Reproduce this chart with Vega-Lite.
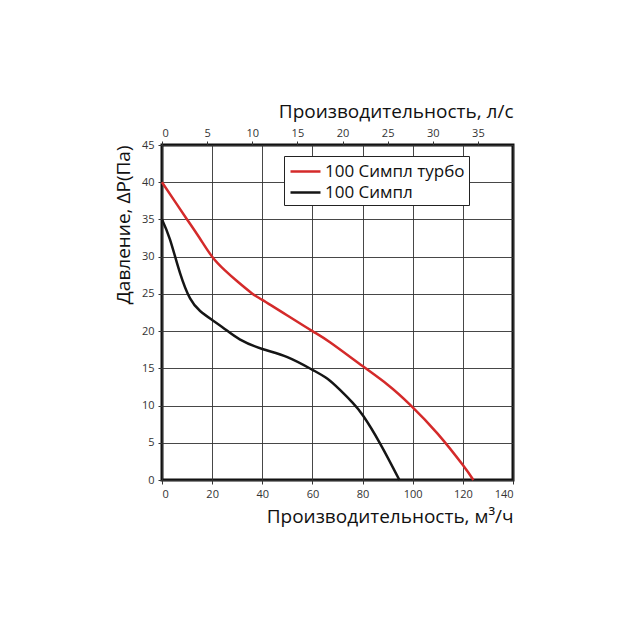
{
  "$schema": "https://vega.github.io/schema/vega-lite/v6.json",
  "autosize": {"type": "none"},
  "padding": {"left": 162, "top": 145, "right": 127, "bottom": 160},
  "width": 351,
  "height": 335,
  "background": "white",
  "config": {
    "font": "Open Sans",
    "view": {"stroke": "#111", "strokeWidth": 3},
    "axis": {
      "labelFont": "Open Sans", "titleFont": "Open Sans",
      "labelFontSize": 11, "labelColor": "#333",
      "titleFontSize": 19, "titleFontWeight": "normal", "titleColor": "#111",
      "domain": false, "tickColor": "#333", "tickSize": 4,
      "gridColor": "#333", "gridWidth": 1, "gridOpacity": 0.9
    }
  },
  "data": {"values": [
    {"s": "100 Симпл турбо", "q": 0, "p": 40},
    {"s": "100 Симпл турбо", "q": 5, "p": 37.5},
    {"s": "100 Симпл турбо", "q": 10, "p": 35},
    {"s": "100 Симпл турбо", "q": 15, "p": 32.5},
    {"s": "100 Симпл турбо", "q": 20, "p": 30},
    {"s": "100 Симпл турбо", "q": 25, "p": 28.2},
    {"s": "100 Симпл турбо", "q": 30, "p": 26.7},
    {"s": "100 Симпл турбо", "q": 35.8, "p": 25.1},
    {"s": "100 Симпл турбо", "q": 40, "p": 24.2},
    {"s": "100 Симпл турбо", "q": 50, "p": 22.1},
    {"s": "100 Симпл турбо", "q": 60, "p": 20},
    {"s": "100 Симпл турбо", "q": 67, "p": 18.5},
    {"s": "100 Симпл турбо", "q": 80, "p": 15.3},
    {"s": "100 Симпл турбо", "q": 90, "p": 12.8},
    {"s": "100 Симпл турбо", "q": 99, "p": 10.1},
    {"s": "100 Симпл турбо", "q": 110, "p": 6.2},
    {"s": "100 Симпл турбо", "q": 120, "p": 2},
    {"s": "100 Симпл турбо", "q": 124.2, "p": 0},
    {"s": "100 Симпл", "q": 0, "p": 35},
    {"s": "100 Симпл", "q": 3.2, "p": 32.3},
    {"s": "100 Симпл", "q": 7.2, "p": 27.8},
    {"s": "100 Симпл", "q": 11.2, "p": 24.4},
    {"s": "100 Симпл", "q": 15.2, "p": 22.7},
    {"s": "100 Симпл", "q": 20, "p": 21.5},
    {"s": "100 Симпл", "q": 25, "p": 20.3},
    {"s": "100 Симпл", "q": 31, "p": 18.9},
    {"s": "100 Симпл", "q": 40, "p": 17.6},
    {"s": "100 Симпл", "q": 50, "p": 16.5},
    {"s": "100 Симпл", "q": 60, "p": 14.8},
    {"s": "100 Симпл", "q": 66, "p": 13.6},
    {"s": "100 Симпл", "q": 71, "p": 12.1},
    {"s": "100 Симпл", "q": 76, "p": 10.4},
    {"s": "100 Симпл", "q": 80.3, "p": 8.6},
    {"s": "100 Симпл", "q": 87, "p": 4.9},
    {"s": "100 Симпл", "q": 94.7, "p": 0}
  ]},
  "layer": [
    {
      "mark": {"type": "line", "strokeWidth": 2.5, "interpolate": "natural"},
      "encoding": {
        "x": {"field": "q", "type": "quantitative",
          "scale": {"domain": [0, 140], "nice": false},
          "axis": {"orient": "bottom", "values": [0,20,40,60,80,100,120,140], "grid": true,
            "title": "Производительность, м³/ч", "titleAnchor": "end", "titlePadding": 8, "labelPadding": 4}},
        "y": {"field": "p", "type": "quantitative",
          "scale": {"domain": [0, 45], "nice": false},
          "axis": {"values": [0,5,10,15,20,25,30,35,40,45], "grid": true,
            "title": "Давление, ΔP(Па)", "titleAnchor": "end", "titlePadding": 8, "labelPadding": 4}},
        "color": {"field": "s", "type": "nominal",
          "scale": {"domain": ["100 Симпл турбо", "100 Симпл"], "range": ["#d42a2a", "#151515"]},
          "legend": {"title": null, "orient": "none", "legendX": 122, "legendY": 11,
            "symbolType": "M-1.5,0H1.5", "symbolSize": 400, "symbolStrokeWidth": 2.5,
            "labelFontSize": 17, "labelColor": "#111", "labelFont": "Open Sans",
            "strokeColor": "#222", "fillColor": "white", "padding": 4, "rowPadding": 1, "labelOffset": 8, "symbolOffset": 6}}
      }
    },
    {
      "mark": {"type": "line", "opacity": 0},
      "encoding": {
        "x": {"field": "q", "type": "quantitative",
          "scale": {"domain": [0, 140], "nice": false},
          "axis": {"orient": "top", "values": [0,18,36,54,72,90,108,126], "grid": false,
            "labelExpr": "format(datum.value/3.6, 'd')",
            "title": "Производительность, л/с", "titleAnchor": "end", "titlePadding": 6, "labelPadding": 3}},
        "y": {"field": "p", "type": "quantitative", "scale": {"domain": [0, 45], "nice": false},
          "axis": {"values": [0,5,10,15,20,25,30,35,40,45], "grid": true,
            "title": "Давление, ΔP(Па)", "titleAnchor": "end", "titlePadding": 8, "labelPadding": 4}},
        "detail": {"field": "s"}
      }
    }
  ],
  "resolve": {"axis": {"x": "independent"}}
}
